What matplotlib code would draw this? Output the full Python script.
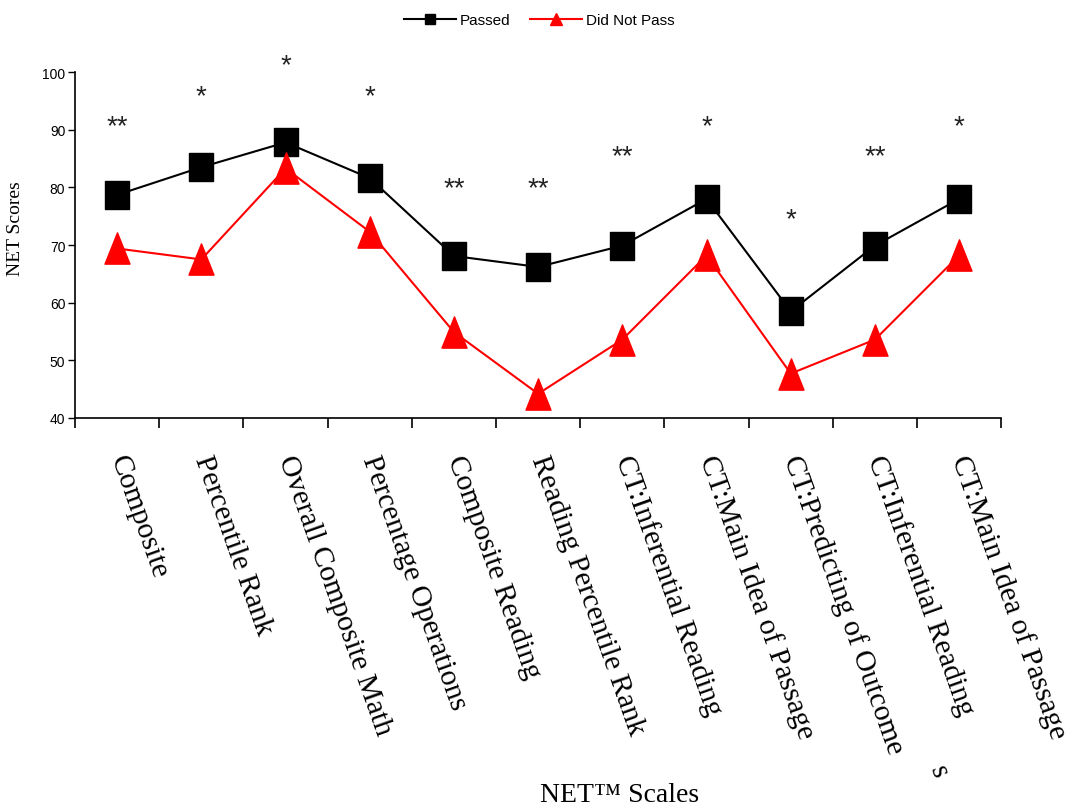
import matplotlib
matplotlib.use('Agg')
import matplotlib.pyplot as plt
from matplotlib.path import Path
from matplotlib.lines import Line2D
from matplotlib import transforms

scales = ['Composite', 'Percentile Rank', 'Overall Composite Math',
          'Percentage Operations', 'Composite Reading', 'Reading Percentile Rank',
          'CT:Inferential Reading', 'CT:Main Idea of Passage',
          'CT:Predicting of Outcome', 'CT:Inferential Reading',
          'CT:Main Idea of Passage']
passed = [78.7, 83.5, 87.8, 81.6, 68.1, 66.2, 69.9, 78.0, 58.5, 69.9, 78.0]
not_passed = [69.4, 67.5, 83.3, 72.3, 54.9, 44.2, 53.6, 68.2, 47.7, 53.6, 68.2]
sig = ['**', '*', '*', '*', '**', '**', '**', '*', '*', '**', '*']
sig_y = [91.6, 96.8, 102.1, 96.8, 80.9, 80.9, 86.3, 91.6, 75.5, 86.3, 91.6]
yticks = [40, 50, 60, 70, 80, 90, 100]

serif = ['Liberation Serif', 'DejaVu Serif']
sans = ['Liberation Sans', 'DejaVu Sans']

# slightly taller-than-wide markers, as in the picture
rect = Path([(-0.41, -0.5), (0.41, -0.5), (0.41, 0.5), (-0.41, 0.5), (-0.41, -0.5)],
            [Path.MOVETO, Path.LINETO, Path.LINETO, Path.LINETO, Path.CLOSEPOLY])
tri = Path([(-0.4, -0.5), (0.4, -0.5), (0.0, 0.5), (-0.4, -0.5)],
           [Path.MOVETO, Path.LINETO, Path.LINETO, Path.CLOSEPOLY])

fig = plt.figure(figsize=(10.72, 8.12), dpi=100)
ax = fig.add_axes([0.07, 0.484, 0.864, 0.426])

x = list(range(len(scales)))
ax.plot(x, passed, color='black', linewidth=1.5, marker=rect, markersize=20.5,
        markerfacecolor='black', markeredgecolor='black', clip_on=False, zorder=3)
ax.plot(x, not_passed, color='#ff0000', linewidth=1.5, marker=tri, markersize=22.5,
        markerfacecolor='#ff0000', markeredgecolor='#ff0000', clip_on=False, zorder=3)

# asterisk glyph sits high in its line box, nudge it down
star_tr = transforms.offset_copy(ax.transData, fig=fig, y=-4, units='points')
for xi, s, yi in zip(x, sig, sig_y):
    ax.text(xi, yi, s, ha='center', va='center', fontsize=20, family=sans,
            color='#222222', clip_on=False, transform=star_tr)

ax.set_xlim(-0.5, len(scales) - 0.5)
ax.set_ylim(40, 100)
ax.set_yticks(yticks)
ax.set_yticklabels([str(t) for t in yticks], family=sans, fontsize=10)
ax.tick_params(axis='y', direction='out', length=5, width=1, pad=2)

ax.set_xticks([i - 0.5 for i in range(len(scales) + 1)])
ax.set_xticklabels([])
ax.tick_params(axis='x', which='major', direction='out', length=7, width=1.2)
ax.set_xticks(x, minor=True)
ax.set_xticklabels(scales, minor=True, rotation=-70.5, ha='left', va='center',
                   rotation_mode='anchor', family=serif, fontsize=21.3)
ax.tick_params(axis='x', which='minor', length=0, pad=27)

ax.spines['top'].set_visible(False)
ax.spines['right'].set_visible(False)
ax.spines['left'].set_linewidth(1.2)
ax.spines['bottom'].set_linewidth(1.2)

# stray wrapped letter under the 9th label
ax.text(9.75, -1.02, 's', transform=ax.get_xaxis_transform(), rotation=-70.5,
        ha='center', va='center', family=serif, fontsize=21, clip_on=False)

ax.set_ylabel('NET Scores', family=serif, fontsize=14, labelpad=10)
ax.yaxis.set_label_coords(-0.055, 0.55)
fig.text(0.578, 0.02, 'NET\u2122 Scales', ha='center', va='center',
         family=serif, fontsize=20)

handles = [
    Line2D([], [], color='black', linewidth=1.5, marker='s', markersize=6.5),
    Line2D([], [], color='#ff0000', linewidth=1.5, marker='^', markersize=8),
]
fig.legend(handles, ['Passed', 'Did Not Pass'], loc='center',
           bbox_to_anchor=(0.503, 0.974), ncol=2, frameon=False,
           prop={'family': sans, 'size': 11}, handlelength=3.4,
           handletextpad=0.25, columnspacing=1.3)

plt.savefig('out.png', dpi=100)
plt.close()
